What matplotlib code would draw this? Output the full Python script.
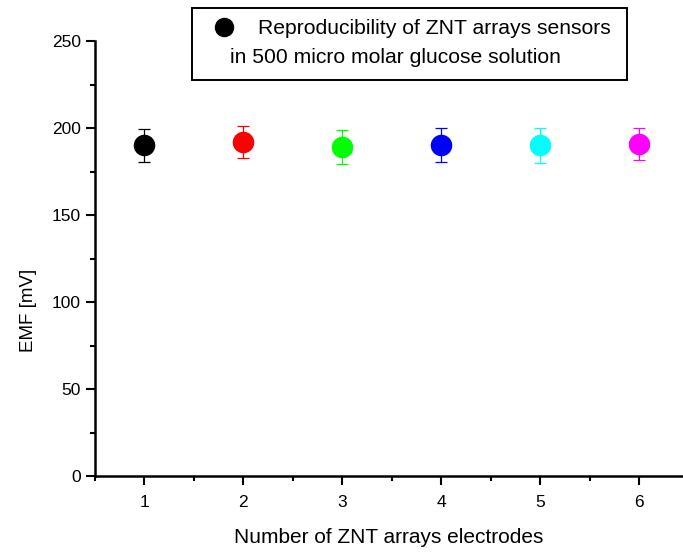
import matplotlib.pyplot as plt
from matplotlib.patches import Rectangle
from matplotlib.lines import Line2D
from matplotlib.ticker import MultipleLocator

plt.rcParams['font.family'] = ['Liberation Sans', 'DejaVu Sans']

# electrode number, EMF (mV) and error
electrodes = [1, 2, 3, 4, 5, 6]
emf = [190.0, 191.8, 189.2, 190.3, 190.0, 191.0]
emf_err = [9.7, 9.2, 9.6, 9.8, 9.8, 9.2]
colors = ['black', 'red', '#00ff00', 'blue', 'cyan', 'magenta']
legend_lines = ["Reproducibility of ZNT arrays sensors",
                "in 500 micro molar glucose solution"]

fig = plt.figure(figsize=(6.83, 5.55), dpi=100)
ax = fig.add_axes([0.139, 0.142, 0.861, 0.784])

for x, y, e, c in zip(electrodes, emf, emf_err, colors):
    ax.errorbar(x, y, yerr=e, fmt='o', color=c, ms=14.5, mec=c,
                elinewidth=0.9, capsize=4, capthick=0.9, ecolor=c)

ax.set_xlim(0.5, 6.445)
ax.set_ylim(0, 250)
ax.set_xticks(electrodes)
ax.xaxis.set_minor_locator(MultipleLocator(0.5))
ax.yaxis.set_major_locator(MultipleLocator(50))
ax.yaxis.set_minor_locator(MultipleLocator(25))

for s in ['top', 'right']:
    ax.spines[s].set_visible(False)
for s in ['left', 'bottom']:
    ax.spines[s].set_linewidth(1.8)

ax.tick_params(which='major', direction='out', length=6.5, width=1.5, labelsize=12.5)
ax.tick_params(which='minor', direction='out', length=3.5, width=1.5)
ax.tick_params(axis='x', which='major', pad=7)

ax.set_xlabel("Number of ZNT arrays electrodes", fontsize=15, labelpad=13)
ax.set_ylabel("EMF [mV]", fontsize=13.5)
ax.yaxis.set_label_coords(-0.098, 0.38)

# legend box drawn by hand (two-line entry)
W, H = 683, 555
fig.add_artist(Rectangle((192 / W, 1 - 80 / H), (627 - 192) / W, (80 - 8) / H,
                         transform=fig.transFigure, fill=False, lw=1.4, ec='black'))
fig.add_artist(Line2D([224 / W], [1 - 27 / H], marker='o', ms=13, color=colors[0],
                      transform=fig.transFigure))
fig.text(258 / W, 1 - 28 / H, legend_lines[0], fontsize=15.2, va='center', ha='left')
fig.text(230 / W, 1 - 57 / H, legend_lines[1], fontsize=15.2, va='center', ha='left')

fig.savefig("out.png", dpi=100)
